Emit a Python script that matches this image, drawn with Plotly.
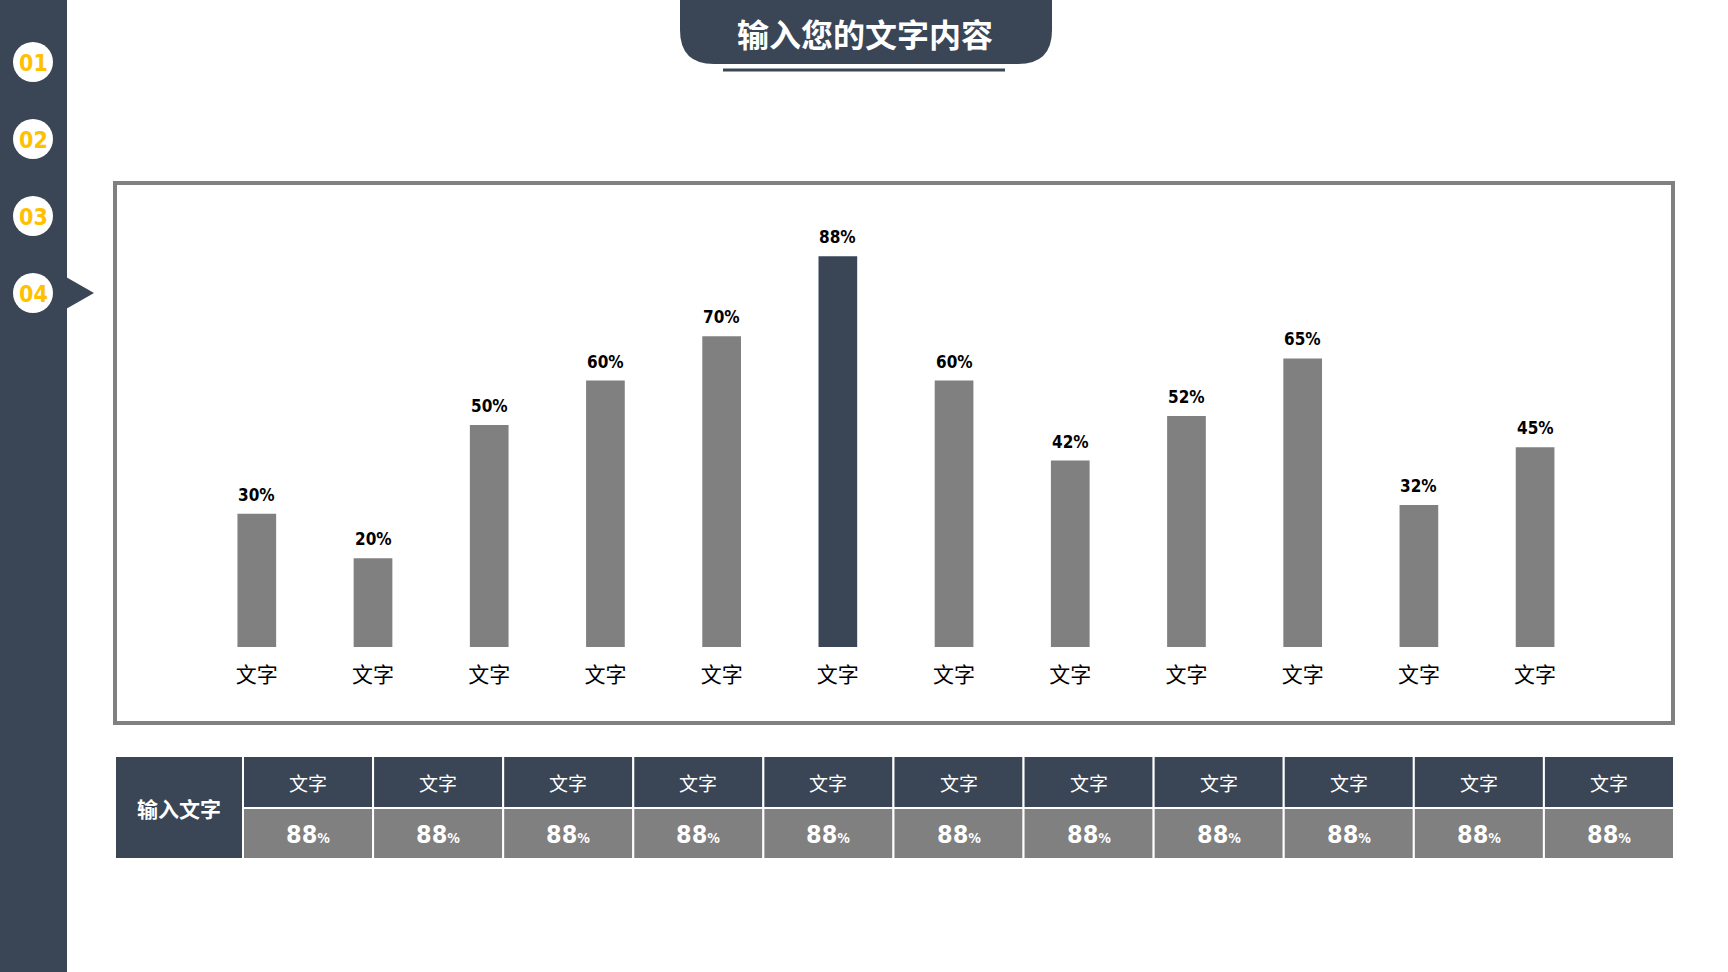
import plotly.graph_objects as go

# ---------------- data ----------------
categories = ["文字", "文字", "文字", "文字", "文字", "文字",
              "文字", "文字", "文字", "文字", "文字", "文字"]
values = [30, 20, 50, 60, 70, 88, 60, 42, 52, 65, 32, 45]
highlight_index = 5
title_text = "输入您的文字内容"
nav_numbers = ["01", "02", "03", "04"]
active_nav = 3
table_row_label = "输入文字"
table_headers = ["文字"] * 11
table_values = [88] * 11

# ---------------- style ----------------
W, H = 1728, 972
DARK = "#3A4656"
GRAY = "#808080"
YELLOW = "#FFC000"
CJK = "Noto Sans CJK SC, Noto Sans, sans-serif"
NARROW = "Liberation Sans Narrow, DejaVu Sans Condensed, Arial Narrow, sans-serif"


def px(p):
    return p / W


def py(p):
    return 1 - p / H


shapes = []
annotations = []

# sidebar
shapes.append(dict(type="rect", xref="paper", yref="paper", x0=0, x1=px(67), y0=0, y1=1,
                   fillcolor=DARK, line=dict(width=0), layer="below"))
nav_y0, nav_step = 62, 77
for i, n in enumerate(nav_numbers):
    cy = nav_y0 + i * nav_step
    shapes.append(dict(type="circle", xref="paper", yref="paper",
                       x0=px(33 - 20), x1=px(33 + 20), y0=py(cy + 20), y1=py(cy - 20),
                       fillcolor="white", line=dict(width=0)))
    annotations.append(dict(text="<b>%s</b>" % n, x=px(33), y=py(cy + 1), xref="paper", yref="paper",
                            showarrow=False, xanchor="center", yanchor="middle",
                            font=dict(family=NARROW, size=23, color=YELLOW)))
    if i == active_nav:
        shapes.append(dict(type="path", xref="paper", yref="paper",
                           path="M %f %f L %f %f L %f %f Z" % (px(66), py(cy - 16), px(94), py(cy),
                                                              px(66), py(cy + 16)),
                           fillcolor=DARK, line=dict(width=0)))

# title box with rounded bottom corners
tx0, tx1, ty1, r = 680, 1052, 64, 34
path = ("M %f %f L %f %f L %f %f Q %f %f %f %f L %f %f Q %f %f %f %f Z" % (
    px(tx0), py(0), px(tx1), py(0), px(tx1), py(ty1 - r),
    px(tx1), py(ty1), px(tx1 - r), py(ty1),
    px(tx0 + r), py(ty1),
    px(tx0), py(ty1), px(tx0), py(ty1 - r)))
shapes.append(dict(type="path", xref="paper", yref="paper", path=path,
                   fillcolor=DARK, line=dict(width=0)))
shapes.append(dict(type="line", xref="paper", yref="paper", x0=px(723), x1=px(1005),
                   y0=py(70), y1=py(70), line=dict(color=DARK, width=3)))
annotations.append(dict(text="<b>%s</b>" % title_text, x=px(865), y=py(33), xref="paper", yref="paper",
                        showarrow=False, xanchor="center", yanchor="middle",
                        font=dict(family=CJK, size=32, color="white")))

# chart frame
shapes.append(dict(type="rect", xref="paper", yref="paper", x0=px(115), x1=px(1673),
                   y0=py(723), y1=py(183), line=dict(color=GRAY, width=4), fillcolor="rgba(0,0,0,0)"))

# bars
colors = [DARK if i == highlight_index else GRAY for i in range(len(values))]
xs = list(range(len(values)))
fig = go.Figure(go.Bar(x=xs, y=values, marker=dict(color=colors, line=dict(width=0)),
                       width=0.333, hoverinfo="skip"))

for x, v in zip(xs, values):
    annotations.append(dict(text="<b>%d%%</b>" % v, x=x, y=v, xref="x", yref="y",
                            showarrow=False, xanchor="center", yanchor="middle", yshift=19,
                            font=dict(family=NARROW, size=17, color="black")))

# table
tl, tr_, tt, tm, tb = 115, 1674, 756, 808, 859
hc = 243
cw = (tr_ - hc) / len(table_headers)
shapes.append(dict(type="rect", xref="paper", yref="paper", x0=px(tl), x1=px(hc), y0=py(tb), y1=py(tt),
                   fillcolor=DARK, line=dict(color="white", width=2)))
annotations.append(dict(text="<b>%s</b>" % table_row_label, x=px((tl + hc) / 2), y=py(tm), xref="paper",
                        yref="paper", showarrow=False, xanchor="center", yanchor="middle",
                        font=dict(family=CJK, size=21, color="white")))
for i, (hd, val) in enumerate(zip(table_headers, table_values)):
    x0 = hc + i * cw
    x1 = x0 + cw
    shapes.append(dict(type="rect", xref="paper", yref="paper", x0=px(x0), x1=px(x1), y0=py(tm), y1=py(tt),
                       fillcolor=DARK, line=dict(color="white", width=2)))
    shapes.append(dict(type="rect", xref="paper", yref="paper", x0=px(x0), x1=px(x1), y0=py(tb), y1=py(tm),
                       fillcolor=GRAY, line=dict(color="white", width=2)))
    annotations.append(dict(text=hd, x=px((x0 + x1) / 2), y=py((tt + tm) / 2), xref="paper", yref="paper",
                            showarrow=False, xanchor="center", yanchor="middle",
                            font=dict(family=CJK, size=19, color="white")))
    annotations.append(dict(text="<b>%d</b><span style='font-size:14px'><b>%%</b></span>" % val,
                            x=px((x0 + x1) / 2), y=py((tm + tb) / 2 + 1), xref="paper", yref="paper",
                            showarrow=False, xanchor="center", yanchor="middle",
                            font=dict(family=NARROW, size=25, color="white")))

fig.update_layout(
    width=W, height=H, margin=dict(l=0, r=0, t=0, b=0),
    paper_bgcolor="white", plot_bgcolor="white", showlegend=False,
    xaxis=dict(domain=[px(198.7), px(1593.2)], range=[-0.5, 11.5], tickmode="array",
               tickvals=xs, ticktext=categories, showgrid=False, zeroline=False, showline=False,
               ticks="", ticklabelstandoff=13,
               tickfont=dict(family=CJK, size=21, color="black"), fixedrange=True),
    yaxis=dict(domain=[py(647), py(203)], range=[0, 100], visible=False, fixedrange=True),
    shapes=shapes, annotations=annotations,
)

fig.write_html("out.html", config={"displayModeBar": False},
               post_script="document.body.style.margin='0';document.body.style.overflow='hidden';")
